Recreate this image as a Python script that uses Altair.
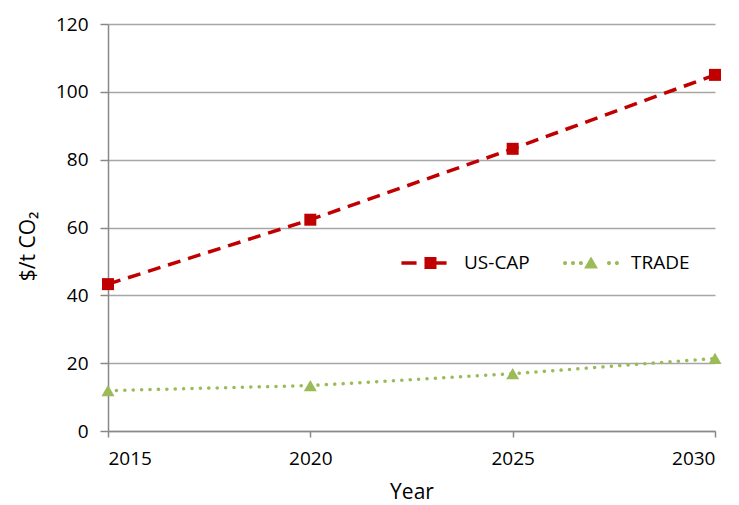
import altair as alt
import pandas as pd

years = [2015, 2020, 2025, 2030]
us_cap = [43.3, 62.3, 83.2, 105.0]
trade = [11.9, 13.4, 16.9, 21.4]
series = ["US-CAP", "TRADE"]
colors = ["#C00000", "#9BBB59"]

rows = []
for y, v in zip(years, us_cap):
    rows.append({"Year": y, "value": v, "series": "US-CAP"})
for y, v in zip(years, trade):
    rows.append({"Year": y, "value": v, "series": "TRADE"})
df = pd.DataFrame(rows)

FONT = "Open Sans"

# Legend symbols: line sample with marker (unit coords, 1 unit = 24 px)
US_SYM = ("M-0.94,-0.075L-0.31,-0.075L-0.31,0.075L-0.94,0.075Z"
          "M0.02,-0.25L0.52,-0.25L0.52,0.25L0.02,0.25Z"
          "M0.52,-0.075L0.94,-0.075L0.94,0.075L0.52,0.075Z")


def dot(cx, r=0.085):
    return (f"M{cx - r},0A{r},{r},0,1,0,{cx + r},0A{r},{r},0,1,0,{cx - r},0Z")


TR_SYM = ("".join(dot(c) for c in [-1.08, -0.75, -0.42, 0.75, 1.08])
          + "M0,-0.27L0.29,0.23L-0.29,0.23Z")

x = alt.X("Year:Q", scale=alt.Scale(domain=[2015, 2030], nice=False, zero=False),
          axis=alt.Axis(values=years, format="d", title="Year", grid=False,
                        labelFontSize=19, titleFontSize=21, titleFontWeight="normal",
                        labelPadding=12, tickSize=6, titleY=67, titleBaseline="alphabetic",
                        domainColor="#888888", tickColor="#888888",
                        labelColor="#000000", titleColor="#000000",
                        labelFont=FONT, titleFont=FONT))
y = alt.Y("value:Q", scale=alt.Scale(domain=[0, 120], nice=False),
          axis=alt.Axis(values=[0, 20, 40, 60, 80, 100, 120], title="$/t CO₂",
                        labelFontSize=19, titleFontSize=21, titleFontWeight="normal",
                        labelPadding=12, tickSize=8,
                        titleX=-74, titleY=222, titleBaseline="alphabetic", titleAlign="center",
                        gridColor="#A6A6A6", domainColor="#888888", tickColor="#888888",
                        labelColor="#000000", titleColor="#000000",
                        labelFont=FONT, titleFont=FONT))

base = alt.Chart(df)

us_line = base.transform_filter(alt.datum.series == "US-CAP").mark_line(
    color="#C00000", strokeWidth=3.5, strokeDash=[13, 8]).encode(x=x, y=y)
tr_line = base.transform_filter(alt.datum.series == "TRADE").mark_line(
    color="#9BBB59", strokeWidth=3.5, strokeDash=[0.1, 8.3], strokeCap="round").encode(x=x, y=y)
us_pts = base.transform_filter(alt.datum.series == "US-CAP").mark_point(
    shape="square", filled=True, opacity=1, size=144, color="#C00000").encode(x=x, y=y)
tr_pts = base.transform_filter(alt.datum.series == "TRADE").mark_point(
    shape="triangle-up", filled=True, opacity=1, size=170, color="#9BBB59").encode(x=x, y=y)

legend_layer = base.transform_filter("false").mark_point(filled=True, opacity=1).encode(
    x=x, y=y,
    color=alt.Color("series:N", scale=alt.Scale(domain=series, range=colors),
                    legend=alt.Legend(title=None, orient="none", legendX=292, legendY=215,
                                      direction="horizontal", columns=2, columnPadding=33,
                                      padding=0, labelFontSize=19, labelFont=FONT,
                                      labelColor="#000000", symbolSize=2304,
                                      symbolStrokeWidth=0, symbolOpacity=1, labelOffset=16)),
    shape=alt.Shape("series:N", scale=alt.Scale(domain=series, range=[US_SYM, TR_SYM])),
)

chart = alt.layer(us_line, tr_line, us_pts, tr_pts, legend_layer).properties(
    width=607, height=407,
    autosize=alt.AutoSizeParams(type="none"),
    padding={"left": 100, "top": 16, "right": 16, "bottom": 72},
).configure_view(stroke=None).configure_axis(domainWidth=1.5, gridWidth=1.5, tickWidth=1.5)

chart.save("out.html", embed_options={"renderer": "svg", "actions": False})
